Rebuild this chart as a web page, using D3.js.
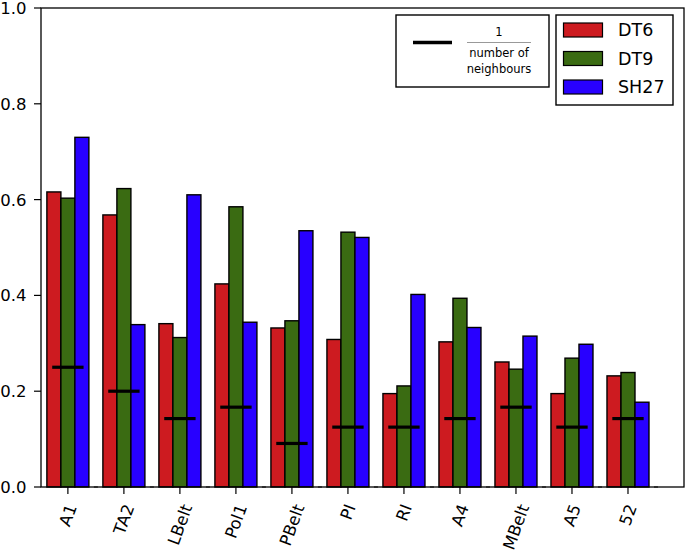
<!DOCTYPE html>
<html><head><meta charset="utf-8">
<script src="https://cdn.jsdelivr.net/npm/d3@7"></script>
<style>body{margin:0;background:#fff}svg{display:block}text{font-family:"DejaVu Sans",sans-serif}</style>
</head><body><svg id="c" width="685" height="551"></svg>
<script>
const categories = ["A1","TA2","LBelt","Pol1","PBelt","PI","RI","A4","MBelt","A5","52"];
const dt6  = [0.616,0.568,0.341,0.424,0.332,0.308,0.195,0.303,0.261,0.195,0.232];
const dt9  = [0.603,0.623,0.312,0.585,0.347,0.532,0.211,0.394,0.246,0.269,0.239];
const sh27 = [0.730,0.339,0.610,0.344,0.535,0.521,0.402,0.333,0.315,0.298,0.177];
const neighbours = [4,5,7,6,11,8,8,7,6,8,7];
const yTicks = [0,0.2,0.4,0.6,0.8,1.0];
const seriesNames = ["DT6","DT9","SH27"];
const seriesColors = ["#cd1b20","#3a6b12","#2800ff"];

const svg = d3.select("#c");
const x = d3.scaleLinear().domain([-0.48, 11.0]).range([41, 684]);
const y = d3.scaleLinear().domain([0, 1]).range([487, 8]);
const bw = 0.25;
const series = [dt6, dt9, sh27];

// zero-height bar edges between groups
svg.append("g").selectAll("line").data(categories).join("line")
  .attr("x1", (d,i)=>x(i+0.5)-2).attr("x2",(d,i)=>x(i+0.5)+2)
  .attr("y1", y(0)).attr("y2", y(0)).attr("stroke","#555").attr("stroke-width",1.5);

series.forEach((vals, s) => {
  svg.append("g").selectAll("rect").data(vals).join("rect")
    .attr("x", (d,i)=>x(i + (s-1)*bw - bw/2))
    .attr("width", x(bw)-x(0))
    .attr("y", d=>y(d))
    .attr("height", d=>y(0)-y(d))
    .attr("fill", seriesColors[s])
    .attr("stroke", "#000").attr("stroke-width", 1.4);
});

svg.append("g").selectAll("line").data(neighbours).join("line")
  .attr("x1",(d,i)=>x(i-0.28)).attr("x2",(d,i)=>x(i+0.28))
  .attr("y1",d=>y(1/d)).attr("y2",d=>y(1/d))
  .attr("stroke","#000").attr("stroke-width",3.2);

// frame
svg.append("rect").attr("x",41).attr("y",8).attr("width",684-41).attr("height",487-8)
  .attr("fill","none").attr("stroke","#000").attr("stroke-width",1.3);

// y axis
const yg = svg.append("g");
yTicks.forEach(t=>{
  yg.append("line").attr("x1",34).attr("x2",41).attr("y1",y(t)).attr("y2",y(t)).attr("stroke","#000").attr("stroke-width",1.2);
  yg.append("text").attr("x",26.5).attr("y",y(t)).attr("dy","0.36em").attr("text-anchor","end")
    .attr("font-size","16.5px").attr("fill","#000").text(t.toFixed(1));
});

// x axis
const xg = svg.append("g");
categories.forEach((c,i)=>{
  const tx = x(i);
  xg.append("line").attr("x1",tx).attr("x2",tx).attr("y1",487).attr("y2",494).attr("stroke","#000").attr("stroke-width",1.2);
  const t = xg.append("text").attr("text-anchor","end").attr("dy","0.35em")
    .attr("font-size","16.5px").attr("fill","#000").text(c);
  const w = t.node().getComputedTextLength();
  const ax = tx + 0.171*w, ay = 505;
  t.attr("x",ax).attr("y",ay).attr("transform",`rotate(-70,${ax},${ay})`);
});

// legend 1
svg.append("rect").attr("x",396).attr("y",15).attr("width",153).attr("height",72)
  .attr("fill","#fff").attr("stroke","#000").attr("stroke-width",1.4);
svg.append("line").attr("x1",413).attr("x2",452).attr("y1",42.5).attr("y2",42.5).attr("stroke","#000").attr("stroke-width",3.4);
svg.append("text").attr("x",499).attr("y",36).attr("text-anchor","middle").attr("font-size","11.5px").text("1");
svg.append("line").attr("x1",467).attr("x2",531).attr("y1",42.5).attr("y2",42.5).attr("stroke","#999").attr("stroke-width",1.2);
svg.append("text").attr("x",499).attr("y",57).attr("text-anchor","middle").attr("font-size","11.5px").text("number of");
svg.append("text").attr("x",499).attr("y",73).attr("text-anchor","middle").attr("font-size","11.5px").text("neighbours");

// legend 2
svg.append("rect").attr("x",556).attr("y",15).attr("width",117).attr("height",90)
  .attr("fill","#fff").attr("stroke","#000").attr("stroke-width",1.4);
seriesNames.forEach((n,i)=>{
  const yy = 23 + i*28.5;
  svg.append("rect").attr("x",563.5).attr("y",yy).attr("width",39).attr("height",14)
    .attr("fill",seriesColors[i]).attr("stroke","#000").attr("stroke-width",1.2);
  svg.append("text").attr("x",618).attr("y",yy+7).attr("dy","0.36em").attr("font-size","17.5px").text(n);
});
</script></body></html>
